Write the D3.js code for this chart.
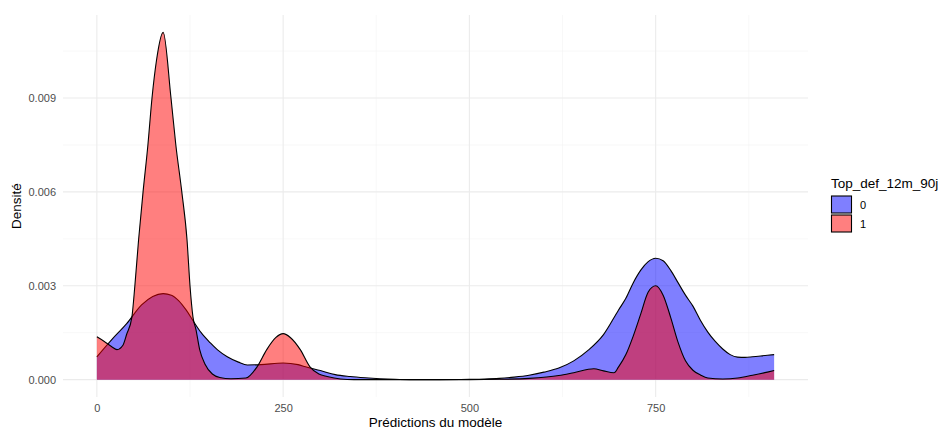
<!DOCTYPE html>
<html>
<head>
<meta charset="utf-8">
<script src="https://cdn.jsdelivr.net/npm/d3@7"></script>
<style>
  html, body { margin: 0; padding: 0; background: #fff; }
  text { font-family: "Liberation Sans", Arial, sans-serif; }
</style>
</head>
<body>
<svg id="chart" width="946" height="429"></svg>
<script>
// ---- Data ----
const x0 = [0, 20, 40, 60, 75, 89, 100, 110, 120, 130, 140, 152, 162, 175, 190, 202, 220, 250, 270, 280, 300, 320, 340, 360, 380, 400, 420, 460, 500, 520, 540, 560, 580, 600, 620, 640, 660, 680, 700, 710, 720, 730, 740, 750, 760, 770, 780, 790, 800, 810, 820, 830, 840, 850, 860, 870, 880, 900, 909];
const density0 = [0.00073, 0.00128, 0.00179, 0.00239, 0.00266, 0.00275, 0.0027, 0.00252, 0.00222, 0.00185, 0.0015, 0.00118, 0.00095, 0.00073, 0.00056, 0.00047, 0.00048, 0.00053, 0.00048, 0.00041, 0.00029, 0.00016, 0.0001, 0.00006, 0.00003, 0.00001, 0, 0, 0.00001, 0.00002, 0.00004, 0.00008, 0.00014, 0.00024, 0.00037, 0.0006, 0.00095, 0.00144, 0.00222, 0.0026, 0.0031, 0.0035, 0.00377, 0.00388, 0.0038, 0.0035, 0.0031, 0.0027, 0.00235, 0.0019, 0.00152, 0.00122, 0.00098, 0.0008, 0.00072, 0.00071, 0.00073, 0.00078, 0.0008];
const x1 = [0, 10, 20, 27, 35, 40, 47, 51, 56, 62, 68.5, 74, 80, 89, 99.5, 106, 114, 121, 125, 129, 133, 138, 145, 155, 165, 180, 200, 215, 228, 240, 250, 260, 273, 286, 298, 309, 327, 345, 400, 500, 540, 580, 620, 640, 667, 680, 694, 700, 710, 720, 730, 740, 750, 760, 770, 780, 790, 800, 810, 820, 840, 860, 880, 900, 909];
const density1 = [0.00137, 0.00122, 0.00105, 0.00096, 0.0011, 0.00145, 0.002, 0.003, 0.00447, 0.006, 0.0075, 0.009, 0.0102, 0.0111, 0.009, 0.0075, 0.006, 0.00447, 0.003, 0.002, 0.0016, 0.00096, 0.0005, 0.00018, 0.00007, 0.00003, 0.00005, 0.00041, 0.00096, 0.00134, 0.00147, 0.00134, 0.00096, 0.00041, 0.00018, 0.0001, 0.00002, 0, 0, 0, 0.00001, 0.00004, 0.00013, 0.00022, 0.00035, 0.00028, 0.00022, 0.0004, 0.0008, 0.0014, 0.0021, 0.0028, 0.003, 0.0027, 0.002, 0.0012, 0.0006, 0.0003, 0.00015, 0.00005, 0.00002, 0.00005, 0.00014, 0.00024, 0.00029];
const groups = ["0", "1"];
const groupColors = ["#0000ff", "#ff0000"];
const xTicks = [0, 250, 500, 750];
const xMinor = [125, 375, 625, 875];
const yTicks = [0, 0.003, 0.006, 0.009];
const yMinor = [0.0015, 0.0045, 0.0075, 0.0105];
const xTitle = "Prédictions du modèle";
const yTitle = "Densité";
const legendTitle = "Top_def_12m_90j";

// ---- Layout ----
const svg = d3.select("#chart");
const panel = { left: 63, right: 808, top: 15, bottom: 397 };

const xMin = d3.min(x0.concat(x1)), xMax = d3.max(x0.concat(x1));
const xPad = (xMax - xMin) * 0.05;
const x = d3.scaleLinear().domain([xMin - xPad, xMax + xPad]).range([panel.left, panel.right]);
const yMax = d3.max(density1.concat(density0));
const yPad = yMax * 0.05;
const y = d3.scaleLinear().domain([-yPad, yMax + yPad]).range([panel.bottom, panel.top]);

const g = svg.append("g");

// minor grid
g.selectAll(".xminor").data(xMinor).enter().append("line")
  .attr("x1", d => x(d)).attr("x2", d => x(d))
  .attr("y1", panel.top).attr("y2", panel.bottom)
  .attr("stroke", "#f3f3f3").attr("stroke-width", 0.6);
g.selectAll(".yminor").data(yMinor).enter().append("line")
  .attr("x1", panel.left).attr("x2", panel.right)
  .attr("y1", d => y(d)).attr("y2", d => y(d))
  .attr("stroke", "#f3f3f3").attr("stroke-width", 0.6);
// major grid
g.selectAll(".xmajor").data(xTicks).enter().append("line")
  .attr("x1", d => x(d)).attr("x2", d => x(d))
  .attr("y1", panel.top).attr("y2", panel.bottom)
  .attr("stroke", "#ebebeb").attr("stroke-width", 1.1);
g.selectAll(".ymajor").data(yTicks).enter().append("line")
  .attr("x1", panel.left).attr("x2", panel.right)
  .attr("y1", d => y(d)).attr("y2", d => y(d))
  .attr("stroke", "#ebebeb").attr("stroke-width", 1.1);

// densities
const series = [[x0, density0], [x1, density1]];
series.forEach(([xs, vals], i) => {
  const pts = xs.map((xv, j) => [xv, vals[j]]);
  const area = d3.area().x(d => x(d[0])).y0(y(0)).y1(d => y(d[1])).curve(d3.curveMonotoneX);
  const line = d3.line().x(d => x(d[0])).y(d => y(d[1])).curve(d3.curveMonotoneX);
  g.append("path").datum(pts).attr("d", area)
    .attr("fill", groupColors[i]).attr("fill-opacity", 0.5);
  g.append("path").datum(pts).attr("d", line)
    .attr("fill", "none").attr("stroke", "#000").attr("stroke-width", 1.1)
    .attr("stroke-linejoin", "round");
});

// axes labels
const xAxis = d3.axisBottom(x).tickValues(xTicks).tickSize(0).tickPadding(0).tickFormat(d3.format("d"));
const xa = svg.append("g").attr("transform", `translate(0,${panel.bottom})`).call(xAxis);
xa.select(".domain").remove();
xa.selectAll("text").attr("fill", "#4d4d4d").attr("font-size", 11).attr("dy", null).attr("y", 0)
  .attr("transform", "translate(0,15)");

const yAxis = d3.axisLeft(y).tickValues(yTicks).tickSize(0).tickPadding(0).tickFormat(d3.format(".3f"));
const ya = svg.append("g").attr("transform", `translate(${panel.left - 7},0)`).call(yAxis);
ya.select(".domain").remove();
ya.selectAll("text").attr("fill", "#4d4d4d").attr("font-size", 11);

// titles
svg.append("text").attr("x", (panel.left + panel.right) / 2).attr("y", 427)
  .attr("text-anchor", "middle").attr("font-size", 13.5).attr("fill", "#000").text(xTitle);
svg.append("text").attr("transform", `translate(21,${(panel.top + panel.bottom) / 2}) rotate(-90)`)
  .attr("text-anchor", "middle").attr("font-size", 13.5).attr("fill", "#000").text(yTitle);

// legend
const leg = svg.append("g").attr("transform", "translate(831,0)");
leg.append("text").attr("x", 0).attr("y", 188).attr("font-size", 13.5).attr("fill", "#000").text(legendTitle);
groups.forEach((grp, i) => {
  const top = 196 + i * 19;
  leg.append("rect").attr("x", 0.5).attr("y", top).attr("width", 20).attr("height", 17)
    .attr("fill", "#fff");
  leg.append("rect").attr("x", 0.5).attr("y", top).attr("width", 20).attr("height", 17)
    .attr("fill", groupColors[i]).attr("fill-opacity", 0.5)
    .attr("stroke", "#000").attr("stroke-width", 1.1);
  leg.append("text").attr("x", 29).attr("y", top + 12.5).attr("font-size", 11).attr("fill", "#000").text(grp);
});
</script>
</body>
</html>
